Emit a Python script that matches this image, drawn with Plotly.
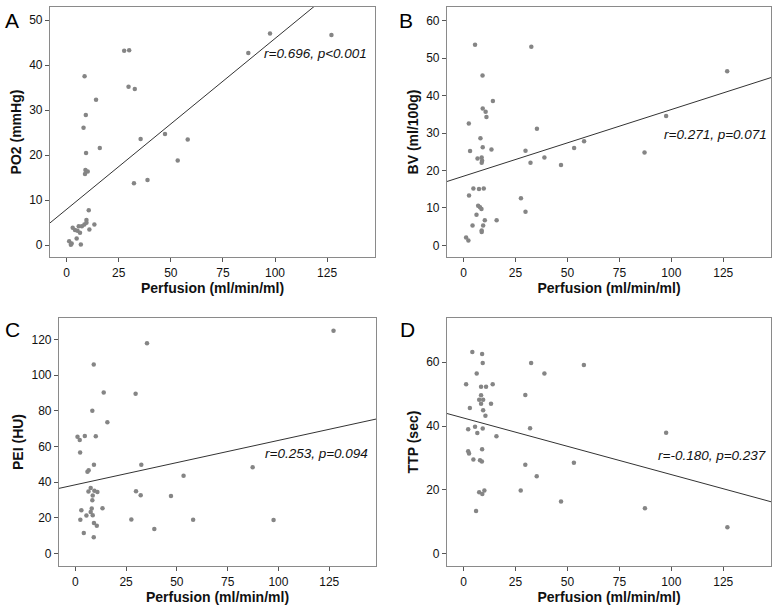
import plotly.graph_objects as go

# ---------------- data ----------------
A_x = [27.6, 30.0, 8.6, 29.7, 32.7, 14.1, 9.2, 8.1, 35.5, 47.2, 15.9, 9.3, 53.3, 9.0, 10.1,
       8.8, 32.3, 38.8, 10.6, 9.5, 2.9, 4.0, 5.2, 6.4, 5.8, 7.3, 8.5, 9.5, 13.3, 10.9,
       4.8, 1.2, 2.4, 2.0, 6.8, 97.6, 127.1, 87.2, 58.1]
A_y = [43.2, 43.3, 37.5, 35.2, 34.7, 32.3, 28.9, 26.1, 23.6, 24.7, 21.6, 20.5, 18.8, 16.7, 16.4,
       15.8, 13.8, 14.5, 7.8, 5.6, 3.9, 3.4, 3.2, 2.8, 4.2, 4.2, 4.6, 5.0, 4.6, 3.5,
       1.5, 0.9, 0.4, 0.1, 0.2, 47.0, 46.7, 42.7, 23.5]

B_x = [5.5, 32.6, 9.1, 14.1, 9.2, 10.6, 11.0, 2.5, 35.3, 8.1, 9.2, 13.4, 3.1, 29.8, 6.7,
       8.7, 8.9, 8.7, 32.2, 38.9, 46.9, 4.7, 7.4, 9.7, 2.6, 27.6, 7.0, 7.9, 8.6, 29.8,
       6.2, 10.2, 15.9, 4.3, 9.4, 8.7, 8.7, 1.2, 2.3, 126.9, 97.5, 87.1, 53.2, 58.0]
B_y = [53.6, 53.1, 45.4, 38.6, 36.6, 35.7, 34.3, 32.6, 31.2, 28.6, 26.2, 25.6, 25.2, 25.3, 23.2,
       23.5, 22.6, 22.1, 22.1, 23.5, 21.5, 15.2, 15.1, 15.2, 13.3, 12.6, 10.6, 10.2, 9.7, 9.0,
       8.2, 6.7, 6.7, 5.3, 5.3, 4.0, 3.6, 2.1, 1.3, 46.5, 34.6, 24.8, 26.0, 27.8]

C_x = [35.3, 9.1, 14.0, 29.7, 8.4, 15.8, 1.1, 2.2, 4.7, 10.1, 2.4, 9.2, 32.5, 6.6, 6.0,
       7.6, 6.5, 9.4, 10.9, 8.6, 8.4, 29.9, 32.2, 47.1, 13.4, 8.1, 3.0, 7.6, 2.5, 5.5,
       8.6, 9.2, 10.6, 27.6, 4.2, 9.1, 38.9, 127.1, 87.3, 53.3, 58.0, 97.6]
C_y = [117.8, 105.9, 90.3, 89.6, 80.0, 73.6, 65.5, 63.6, 65.8, 65.7, 56.6, 49.7, 49.7, 46.7, 45.8,
       36.7, 34.7, 35.2, 34.5, 32.5, 29.9, 34.9, 32.7, 32.3, 25.4, 25.2, 24.3, 23.2, 18.9, 21.3,
       21.5, 17.1, 15.6, 19.1, 11.5, 9.1, 13.7, 124.8, 48.4, 43.6, 18.9, 18.8]

D_x = [4.2, 8.9, 9.2, 32.5, 38.9, 6.3, 1.2, 8.4, 10.8, 14.0, 29.7, 8.4, 7.5, 9.4, 8.4,
       13.2, 3.0, 9.4, 10.5, 5.5, 2.2, 9.2, 6.6, 32.0, 15.8, 8.9, 2.2, 2.6, 4.7, 7.9,
       8.8, 29.7, 35.2, 27.5, 7.5, 10.0, 9.0, 6.0, 46.9, 57.9, 97.5, 53.1, 87.3, 127.0]
D_y = [63.2, 62.5, 59.7, 59.7, 56.4, 56.4, 53.1, 52.3, 52.3, 53.1, 49.7, 49.6, 48.2, 48.2, 47.0,
       47.0, 45.6, 44.9, 43.2, 39.8, 39.0, 39.2, 37.8, 39.3, 36.8, 32.7, 32.1, 31.4, 29.5, 29.3,
       28.9, 27.9, 24.3, 19.8, 19.3, 19.8, 18.7, 13.4, 16.4, 59.1, 37.9, 28.5, 14.3, 8.3]

# fitted regression lines (intercept, slope) as drawn in the picture
A_fit = (8.0, 0.379)
B_fit = (18.5, 0.178)
C_fit = (38.5, 0.249)
D_fit = (42.5, -0.177)

stats_text = ["r=0.696, p<0.001", "r=0.271, p=0.071", "r=0.253, p=0.094", "r=-0.180, p=0.237"]
panel_letters = ["A", "B", "C", "D"]
y_titles = ["PO2 (mmHg)", "BV (ml/100g)", "PEI (HU)", "TTP (sec)"]
x_title = "Perfusion (ml/min/ml)"
x_ticks = [0, 25, 50, 75, 100, 125]
y_ticks = [[0, 10, 20, 30, 40, 50], [0, 10, 20, 30, 40, 50, 60],
           [0, 20, 40, 60, 80, 100, 120], [0, 20, 40, 60]]
y_ranges = [[-2.6, 52.9], [-3.1, 63.7], [-7.0, 132.0], [-3.8, 73.8]]
x_range = [-8.0, 148.0]

# ---------------- layout geometry ----------------
W, H = 776, 608
boxes = [  # (left, right, top, bottom) in pixels
    (50, 375, 7, 257),
    (447, 771, 7, 257),
    (59, 376, 318, 566),
    (447, 771, 318, 566),
]
text_pos = [(369, 54), (769, 134), (370, 453), (768, 455)]
letter_pos = [(3, 7), (397, 7), (3, 316), (398, 316)]

FONT = "Arial, Liberation Sans, Helvetica, sans-serif"
GRAY = "#858585"

fig = go.Figure()
datasets = [(A_x, A_y, A_fit), (B_x, B_y, B_fit), (C_x, C_y, C_fit), (D_x, D_y, D_fit)]

layout = dict(
    width=W, height=H, margin=dict(l=0, r=0, t=0, b=0),
    paper_bgcolor="white", plot_bgcolor="white", showlegend=False,
    font=dict(family=FONT, color="#111"),
)
annotations = []
for i, (xs, ys, fit) in enumerate(datasets):
    n = i + 1
    xa = "x" if n == 1 else f"x{n}"
    ya = "y" if n == 1 else f"y{n}"
    fig.add_trace(go.Scatter(x=xs, y=ys, mode="markers", xaxis=xa, yaxis=ya,
                             marker=dict(color=GRAY, size=4.5, line=dict(width=0))))
    b0, b1 = fit
    lx = [x_range[0], x_range[1]]
    ly = [b0 + b1 * v for v in lx]
    fig.add_trace(go.Scatter(x=lx, y=ly, mode="lines", xaxis=xa, yaxis=ya,
                             line=dict(color="#333333", width=1)))
    l, r, t, b = boxes[i]
    common = dict(showgrid=False, zeroline=False, showline=True, mirror=True,
                  linecolor="#8a8a8a", linewidth=1.2, ticks="outside", ticklen=4,
                  tickcolor="#555", tickwidth=1,
                  tickfont=dict(family=FONT, size=12, color="#111"))
    layout["xaxis" if n == 1 else f"xaxis{n}"] = dict(
        domain=[l / W, r / W], range=x_range, tickvals=x_ticks, anchor=ya,
        title=dict(text=f"<b>{x_title}</b>", font=dict(family=FONT, size=14, color="#111"),
                   standoff=4),
        **common)
    layout["yaxis" if n == 1 else f"yaxis{n}"] = dict(
        domain=[1 - b / H, 1 - t / H], range=y_ranges[i], tickvals=y_ticks[i], anchor=xa,
        title=dict(text=f"<b>{y_titles[i]}</b>", font=dict(family=FONT, size=14, color="#111"),
                   standoff=4),
        **common)
    tx, ty = text_pos[i]
    annotations.append(dict(x=tx / W, y=1 - ty / H, xref="paper", yref="paper",
                            text=f"<i>{stats_text[i]}</i>", showarrow=False,
                            xanchor="right", yanchor="middle",
                            font=dict(family=FONT, size=13.5, color="#111")))
    lx0, ly0 = letter_pos[i]
    annotations.append(dict(x=lx0 / W, y=1 - ly0 / H, xref="paper", yref="paper",
                            text=panel_letters[i], showarrow=False,
                            xanchor="left", yanchor="top",
                            font=dict(family=FONT, size=21, color="#000")))

layout["annotations"] = annotations
fig.update_layout(**layout)
fig.write_html("out.html", config={"displayModeBar": False},
               post_script="document.body.style.margin='0';document.body.style.overflow='hidden';")
